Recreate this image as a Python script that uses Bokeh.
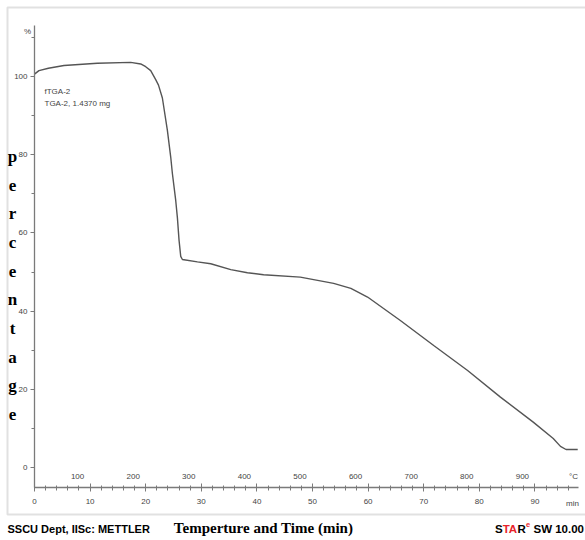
from bokeh.plotting import figure
from bokeh.models import (Range1d, SingleIntervalTicker, Label, BoxAnnotation,
                          ColumnDataSource, LinearAxis)
from bokeh.core.properties import value
from bokeh.embed import file_html
from bokeh.resources import INLINE

# ---- data ----
time_min = [0.0, 0.8, 2.5, 5.3, 11.3, 17.3, 19.1, 20.0, 20.9, 21.8, 22.3, 23.0,
            23.9, 24.5, 24.8, 25.4, 25.7, 26.0, 26.3, 26.6, 29.3, 31.7, 35.3,
            38.3, 41.2, 47.8, 53.8, 56.9, 59.9, 65.8, 71.8, 77.9, 83.8, 89.7,
            93.3, 94.6, 95.6, 97.7]
weight_pct = [100.6, 101.5, 102.1, 102.8, 103.4, 103.6, 103.2, 102.5, 101.5, 99.2, 97.8, 94.5,
              86.2, 79.4, 75.2, 68.3, 63.9, 58.1, 54.0, 53.2, 52.6, 52.1, 50.6,
              49.8, 49.3, 48.7, 47.1, 45.8, 43.6, 37.6, 31.2, 24.8, 18.0, 11.6,
              7.4, 5.4, 4.6, 4.6]
temp_ticks = [100, 200, 300, 400, 500, 600, 700, 800, 900]
temp_tick_labels = [str(t) for t in temp_ticks]
temp_start = 22.5      # degC at t = 0
heating_rate = 10.0    # degC / min
ylabel_letters = list("percentage")

# ---- layout helpers (canvas pixel -> data) ----
W, H = 585, 538
X0, XS = 34.0, 5.56     # canvas x of t=0, px per minute
Y0, YS = 467.0, 3.91    # canvas y of 0 %, px per %

def dx(px):
    return (px - X0) / XS

def dy(py):
    return (Y0 - py) / YS

p = figure(width=W, height=H,
           x_range=Range1d(dx(0), dx(W)), y_range=Range1d(dy(H), dy(0)),
           output_backend="svg", toolbar_location=None,
           x_axis_location=None, y_axis_location=None,
           min_border=0, min_border_left=0, min_border_right=0,
           min_border_top=0, min_border_bottom=0)
t_end = dx(578)
p.extra_x_ranges = {"temp": Range1d(temp_start + heating_rate * dx(0),
                                    temp_start + heating_rate * dx(W))}

p.grid.visible = False
p.outline_line_color = None
p.background_fill_color = "white"
p.border_fill_color = "white"

# axes (fixed inside the canvas)
axis_col = "#7a7a7a"
lab_col = "#444444"
yax = LinearAxis(fixed_location=0, bounds=(dy(487), dy(25)),
                 ticker=SingleIntervalTicker(interval=20, num_minor_ticks=2))
xax = LinearAxis(fixed_location=dy(487), bounds=(0, t_end),
                 ticker=SingleIntervalTicker(interval=10, num_minor_ticks=5))
for ax in (xax, yax):
    ax.axis_line_color = axis_col
    ax.axis_line_width = 1.3
    ax.major_tick_line_color = axis_col
    ax.minor_tick_line_color = axis_col
    ax.major_label_text_font = "Liberation Sans"
    ax.major_label_text_font_size = "8px"
    ax.major_label_text_color = lab_col
yax.major_tick_out = 4
yax.major_tick_in = 0
yax.minor_tick_out = 3
yax.minor_tick_in = 0
yax.major_label_standoff = 3
xax.major_tick_out = 4
xax.major_tick_in = 4
xax.minor_tick_out = 3
xax.minor_tick_in = 2
xax.major_label_standoff = 7
p.add_layout(yax, "left")
p.add_layout(xax, "below")

# curve
p.line(time_min, weight_pct, line_color="#555555", line_width=1.4)

# degC labels via temperature scale
src_t = ColumnDataSource(dict(x=temp_ticks, y=[dy(476)] * len(temp_ticks), text=temp_tick_labels))
p.text(x="x", y="y", text="text", source=src_t, x_range_name="temp",
       text_font=value("Liberation Sans"), text_font_size="8px", text_color=lab_col,
       text_align="center", text_baseline="middle")

def lab(px, py, text, size="8px", font="Liberation Sans", color=lab_col, align="left",
        style="normal"):
    p.add_layout(Label(x=dx(px), y=dy(py), text=text, text_font=font, text_font_size=size,
                       text_color=color, text_align=align, text_baseline="middle",
                       text_font_style=style))

lab(573, 476, "°C", align="center")
lab(572, 503, "min", align="center")
lab(27, 31, "%", align="center")
lab(44, 91, "fTGA-2")
lab(44, 103, "TGA-2, 1.4370 mg")

# vertical y label
n = len(ylabel_letters)
for i, ch in enumerate(ylabel_letters):
    py = 156 + i * (414 - 156) / (n - 1)
    lab(12, py, ch, size="17px", font="Liberation Serif", color="black", align="center", style="bold")

# footer
lab(7, 528, "SSCU Dept, IISc: METTLER", size="11px", color="black", style="bold")
lab(263, 527, "Temperture and Time (min)", size="15px", font="Liberation Serif",
    color="black", align="center", style="bold")
red = "#e8232a"
lab(494.5, 528, "S", size="11.5px", color="black", style="bold")
lab(502.2, 528, "TA", size="11.5px", color=red, style="bold")
lab(517.1, 528, "R", size="11.5px", color="black", style="bold")
lab(525.4, 524, "e", size="7.5px", color=red, style="bold")
lab(533.0, 528, "SW 10.00", size="11.5px", color="black", style="bold")

# outer box
p.add_layout(BoxAnnotation(left=dx(7), right=dx(600), top=dy(7), bottom=dy(514),
                           fill_alpha=0, line_color="#9a9a9a", line_width=2))

open("out.html", "w").write(file_html(p, INLINE))
